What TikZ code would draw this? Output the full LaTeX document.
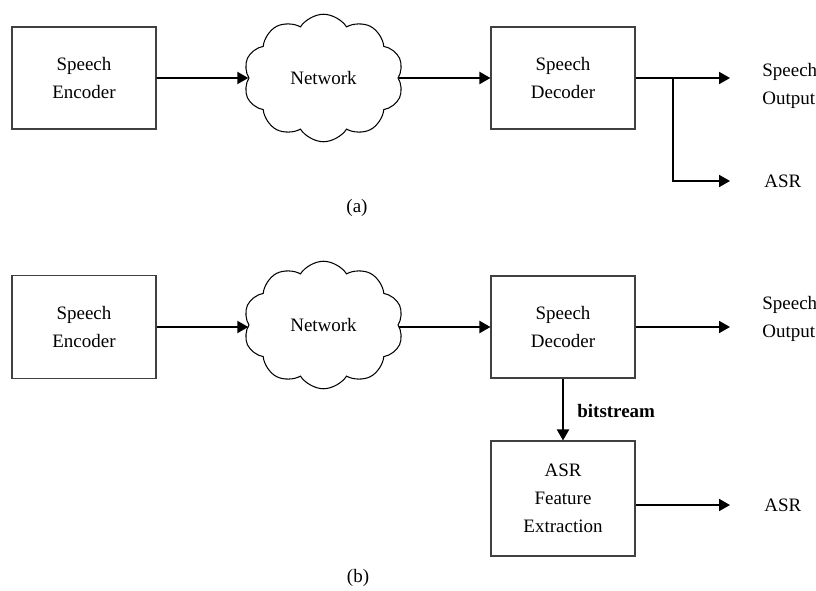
\documentclass[tikz,border=0pt]{standalone}
\usepackage{fontspec}
\setmainfont{Liberation Serif}
\usepackage{tikz}
\usetikzlibrary{shapes, arrows.meta}

\tikzset{
  blockbox/.style={draw=black!75, line width=0.6pt, minimum width=2.88cm, inner sep=0pt, align=center,
    font=\fontsize{10.8}{15.8}\selectfont},
  netcloud/.style={cloud, draw, line width=0.6pt, cloud puffs=10, cloud puff arc=115, aspect=1.3,
    minimum width=3.2cm, minimum height=2.55cm, inner sep=0pt, font=\fontsize{10.8}{15.8}\selectfont},
  outtext/.style={anchor=west, inner sep=0pt, align=left, font=\fontsize{10.8}{15.8}\selectfont},
  arr/.style={line width=1.1pt, -{Triangle[length=0.22cm, width=0.24cm]}}
}

\begin{document}
\begin{tikzpicture}
\useasboundingbox (0,0) rectangle (16.32,11.8);

% (a)
\node (enc_a) at (1.68,10.24) [blockbox, minimum height=2.04cm] {Speech\\Encoder};
\node (net_a) at (6.47,10.24) [netcloud] {Network};
\node (dec_a) at (11.26,10.24) [blockbox, minimum height=2.04cm] {Speech\\Decoder};
\coordinate (split_a) at (13.46,10.24);
\coordinate (tip_sp_a) at (14.6,10.24);
\coordinate (tip_asr_a) at (14.6,8.18);
\node (sp_a) at (15.24,10.08) [outtext] {Speech\\Output};
\node (asr_a) at (15.28,8.18) [outtext] {ASR};
\node (lab_a) at (7.14,7.64) [font=\fontsize{10.8}{13}\selectfont] {(a)};

\draw[arr] (enc_a) -- (net_a);
\draw[arr] (net_a) -- (dec_a);
\draw[arr] (dec_a.east) -- (tip_sp_a);
\draw[arr] (split_a) |- (tip_asr_a);

% (b)
\node (enc_b) at (1.68,5.26) [blockbox, minimum height=2.06cm] {Speech\\Encoder};
\node (net_b) at (6.47,5.3) [netcloud] {Network};
\node (dec_b) at (11.26,5.26) [blockbox, minimum height=2.04cm] {Speech\\Decoder};
\node (fe_b) at (11.26,1.83) [blockbox, minimum height=2.3cm] {ASR\\Feature\\Extraction};
\coordinate (tip_sp_b) at (14.6,5.26);
\coordinate (tip_asr_b) at (14.6,1.7);
\node (sp_b) at (15.24,5.42) [outtext] {Speech\\Output};
\node (asr_b) at (15.28,1.7) [outtext] {ASR};
\node (bits) at (11.54,3.58) [outtext, font=\fontsize{10.8}{13}\selectfont\bfseries] {bitstream};
\node (lab_b) at (7.16,0.24) [font=\fontsize{10.8}{13}\selectfont] {(b)};

\draw[arr] (enc_b) -- (net_b.west |- enc_b);
\draw[arr] (net_b.east |- dec_b) -- (dec_b);
\draw[arr] (dec_b.east) -- (tip_sp_b);
\draw[arr] (dec_b) -- (fe_b);
\draw[arr] (fe_b.east |- tip_asr_b) -- (tip_asr_b);
\end{tikzpicture}
\end{document}
